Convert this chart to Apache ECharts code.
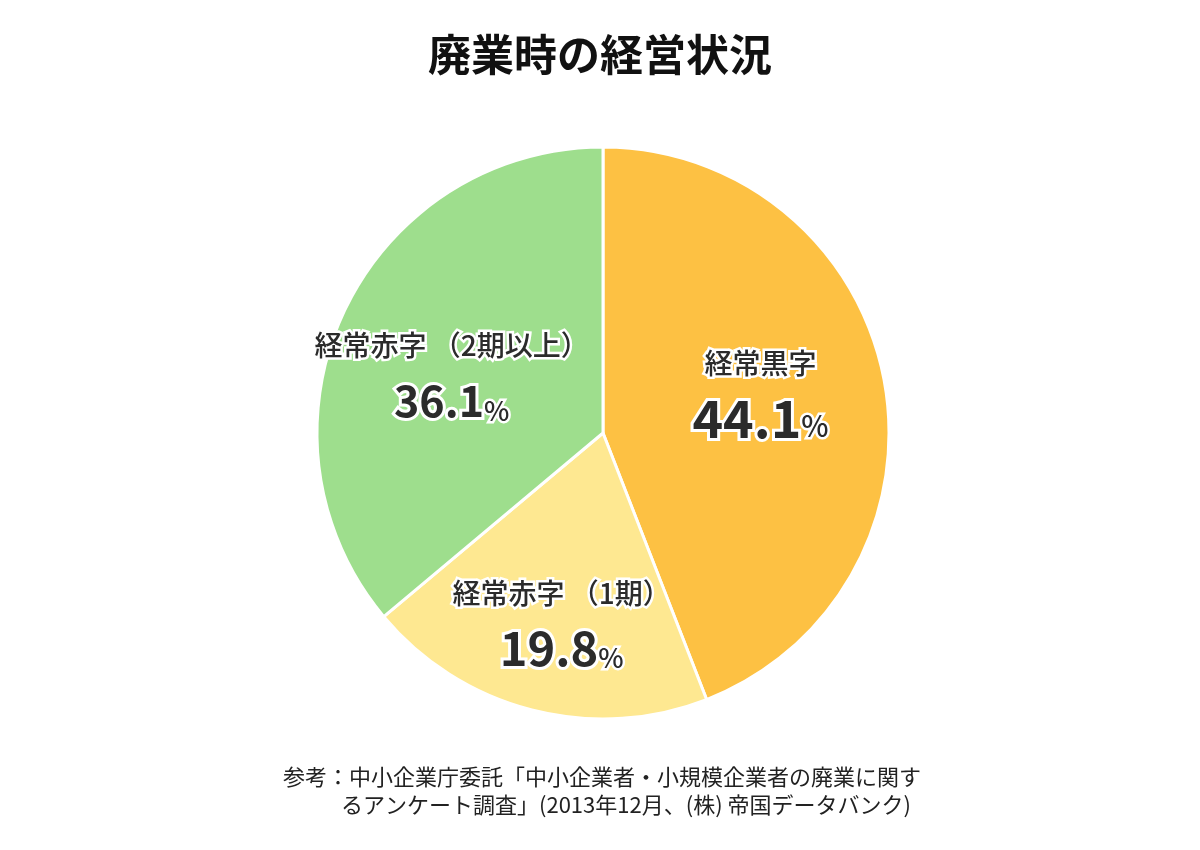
<!DOCTYPE html>
<html>
<head>
<meta charset="utf-8">
<script src="https://cdn.jsdelivr.net/npm/echarts@6/dist/echarts.min.js"></script>
<style>
	html, body { margin: 0; padding: 0; background: #fff; }
	#main { width: 1200px; height: 850px; }
</style>
</head>
<body>
<div id="main"></div>
<script>
// 廃業時の経営状況
var names = ['経常黒字', '経常赤字 （1期）', '経常赤字 （2期以上）'];
var values = [44.1, 19.8, 36.1];
var colors = ['#fdc143', '#fee891', '#9ede8d'];

// ラベルの微調整（位置・文字サイズ）
var labelOffsets = [[14, -13], [-5, 49], [-19, 4]];
var valueSizes = [52, 47, 43];
var pctSizes = [29, 27, 27];

var font = '"Noto Sans CJK JP", "Noto Sans", sans-serif';

function richFor(i) {
	return {
		n: {
			fontFamily: font,
			fontSize: 28,
			fontWeight: 500,
			color: '#2b2b2b',
			textBorderColor: '#fff',
			textBorderWidth: 5,
			lineHeight: 50
		},
		v: {
			fontFamily: font,
			fontSize: valueSizes[i],
			fontWeight: 'bold',
			color: '#2b2b2b',
			textBorderColor: '#fff',
			textBorderWidth: 6,
			lineHeight: 60
		},
		p: {
			fontFamily: font,
			fontSize: pctSizes[i],
			fontWeight: 500,
			color: '#2b2b2b',
			textBorderColor: '#fff',
			textBorderWidth: 5,
			verticalAlign: 'bottom',
			lineHeight: 60,
			padding: [0, 0, Math.round(valueSizes[i] * 0.15), 0]
		}
	};
}

var pieData = [];
values.forEach(function(v, i) {
	pieData.push({
		name: names[i],
		value: v,
		itemStyle: { color: colors[i] },
		label: { offset: labelOffsets[i], rich: richFor(i) }
	});
});

var chart = echarts.init(document.getElementById('main'));

chart.setOption({
	animation: false,
	title: [{
		text: '廃業時の経営状況',
		left: 'center',
		top: 28,
		textStyle: {
			fontFamily: font,
			fontSize: 43,
			fontWeight: 'bold',
			color: '#111'
		}
	}, {
		text: '参考：中小企業庁委託「中小企業者・小規模企業者の廃業に関す',
		left: 278,
		top: 761,
		textStyle: { fontFamily: font, fontSize: 22, fontWeight: 'normal', color: '#222' }
	}, {
		text: 'るアンケート調査」(2013年12月、(株) 帝国データバンク)',
		left: 336,
		top: 789,
		textStyle: { fontFamily: font, fontSize: 22, fontWeight: 'normal', color: '#222' }
	}],
	series: [{
		type: 'pie',
		center: [603, 433],
		radius: [0, 286],
		startAngle: 90,
		clockwise: true,
		data: pieData,
		itemStyle: {
			borderColor: '#fff',
			borderWidth: 3
		},
		labelLine: { show: false },
		label: {
			show: true,
			position: 'inside',
			fontFamily: font,
			formatter: function(p) {
				return '{n|' + p.name + '}\n{v|' + p.value.toFixed(1) + '}{p|%}';
			}
		}
	}]
});
</script>
</body>
</html>
